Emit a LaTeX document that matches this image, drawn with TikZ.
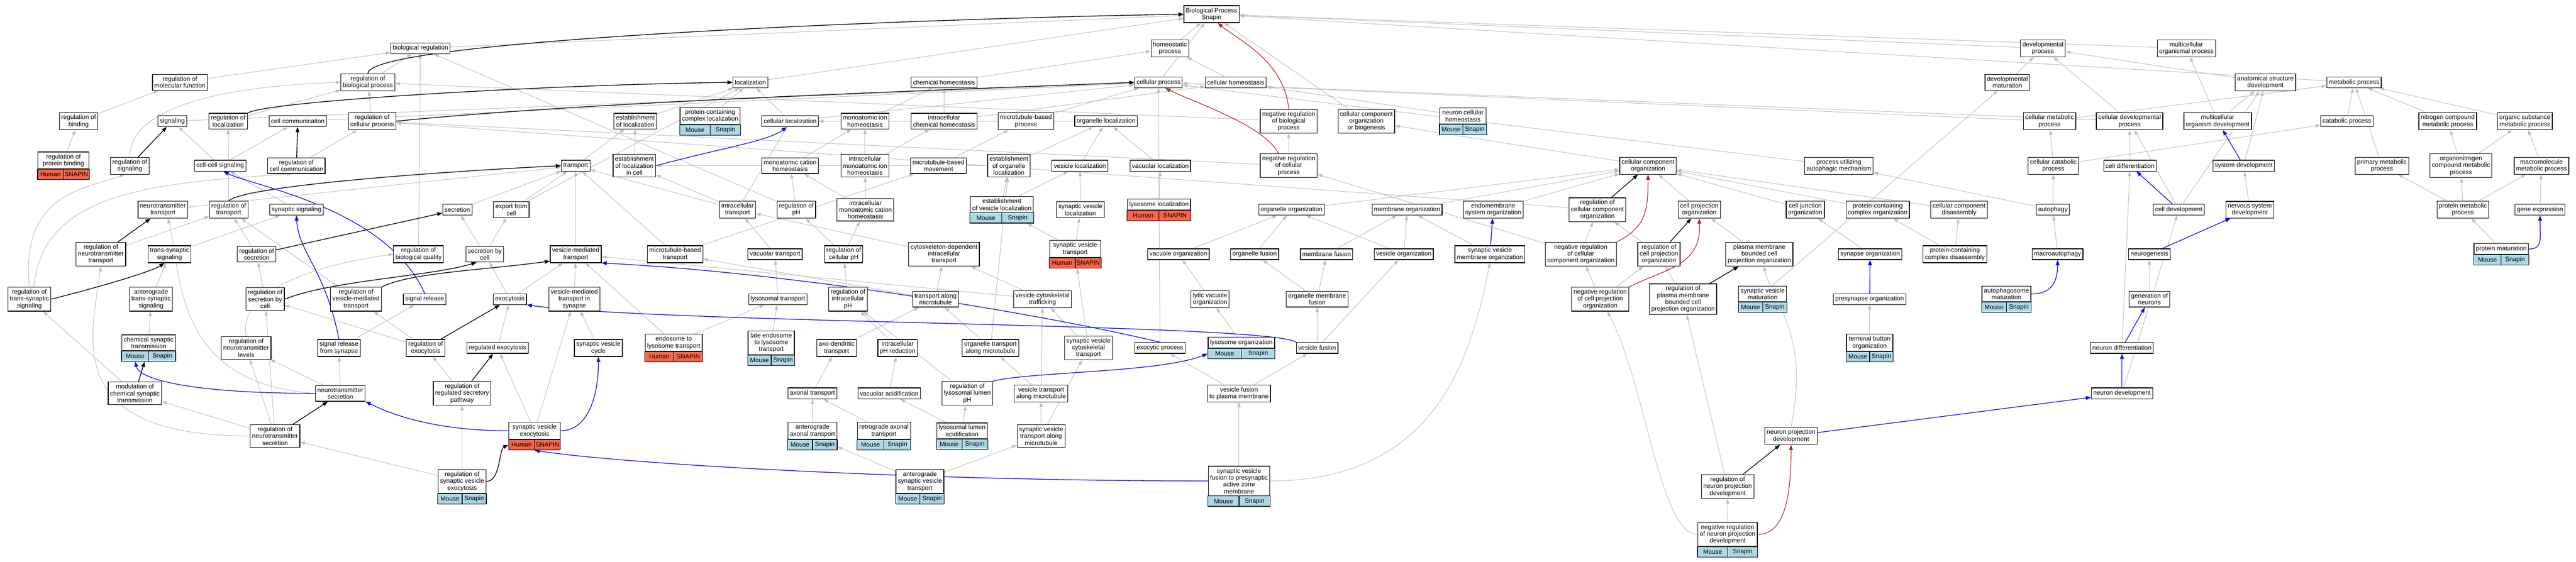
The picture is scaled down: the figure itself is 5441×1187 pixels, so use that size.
\documentclass[tikz,border=0pt]{standalone}
\usepackage{fontspec}
\setmainfont{Liberation Sans}
\usetikzlibrary{fit,arrows.meta,backgrounds}
\definecolor{mouseblue}{HTML}{ADD8E6}
\definecolor{humanred}{HTML}{FF6347}
\definecolor{isagray}{RGB}{190,190,190}
\definecolor{negred}{HTML}{B22222}
\newcommand\termfont{\fontsize{13.3}{14.5}\selectfont}
\newcommand\genecells[4]{%
	\node[genecell, fill=#2, fit={(#1.south west) ([yshift=-22pt]#1.south)}, label={[font=\termfont]center:#3}] (#1-sp) {};
	\node[genecell, fill=#2, fit={(#1.south) ([yshift=-22pt]#1.south east)}, label={[font=\termfont]center:#4}] (#1-ge) {};
	\node[fit=(#1)(#1-sp)(#1-ge), inner sep=0pt] (#1-all) {};}
\newcommand\mousebox[3]{\node[term, minimum width=98pt] (#1) at (#2) {#3};\genecells{#1}{mouseblue}{Mouse}{Snapin}}
\newcommand\humanbox[3]{\node[term, minimum width=108pt] (#1) at (#2) {#3};\genecells{#1}{humanred}{Human}{SNAPIN}}
\begin{document}
\begin{tikzpicture}[x=1pt,y=-1pt]\tikzset{term/.style = {draw=black, line width=1.3pt, fill=white, align=center, font=\termfont, inner xsep=4pt, inner ysep=4.5pt, minimum height=23pt},
	genecell/.style = {draw=black, line width=1.3pt, inner sep=0pt},
	isa/.style = {draw=isagray, line width=1.1pt, -{Triangle[length=10pt,width=7pt]}},
	regul/.style = {draw=black, line width=1.5pt, -{Triangle[length=11pt,width=8pt]}},
	partof/.style = {draw=blue, line width=1.4pt, -{Triangle[length=11pt,width=8pt]}},
	negreg/.style = {draw=negred, line width=1.3pt, -{Triangle[length=11pt,width=8pt]}}}
	\useasboundingbox (0,0) rectangle (5441,1187);

		\node[term] (bp) at (2559,30) {Biological Process\\Snapin};

		\node[term] (bioreg) at (888,102) {biological regulation};
		\node[term] (homeo) at (2471,102) {homeostatic\\process};
		\node[term] (devproc) at (4315,102) {developmental\\process};
		\node[term] (multorg) at (4618,102) {multicellular\\organismal process};

		\node[term] (regmf) at (380,174) {regulation of\\molecular function};
		\node[term] (regbp) at (777,174) {regulation of\\biological process};
		\node[term] (loc) at (1585,174) {localization};
		\node[term] (chemhom) at (1994,174) {chemical homeostasis};
		\node[term] (cellproc) at (2447,174) {cellular process};
		\node[term] (cellhom) at (2610,174) {cellular homeostasis};
		\node[term] (devmat) at (4240,174) {developmental\\maturation};
		\node[term] (anatdev) at (4785,174) {anatomical structure\\development};
		\node[term] (metab) at (4972,174) {metabolic process};

		\node[term] (regbind) at (166,256) {regulation of\\binding};
		\node[term] (signal) at (364,256) {signaling};
		\node[term] (regloc) at (482,256) {regulation of\\localization};
		\node[term] (cellcomm) at (629,256) {cell communication};
		\node[term] (regcp) at (786,256) {regulation of\\cellular process};
		\node[term] (estloc) at (1342,256) {establishment\\of localization};
		\mousebox{pcloc}{1500,245}{protein-containing\\complex localization}
		\node[term] (cellloc) at (1669,256) {cellular localization};
		\node[term] (ionhom) at (1827,256) {monoatomic ion\\homeostasis};
		\node[term] (icchemhom) at (1994,256) {intracellular\\chemical homeostasis};
		\node[term] (mtproc) at (2167,256) {microtubule-based\\process};
		\node[term] (orgloc) at (2336,256) {organelle localization};
		\node[term] (negregbp) at (2722,256) {negative regulation\\of biological\\process};
		\node[term] (ccob) at (2886,256) {cellular component\\organization\\or biogenesis};
		\mousebox{neurhom}{3090,245}{neuron cellular\\homeostasis}
		\node[term] (cellmet) at (4329,256) {cellular metabolic\\process};
		\node[term] (celldevp) at (4498,256) {cellular developmental\\process};
		\node[term] (multdev) at (4684,256) {multicellular\\organism development};
		\node[term] (catab) at (4957,256) {catabolic process};
		\node[term] (nitro) at (5170,256) {nitrogen compound\\metabolic process};
		\node[term] (orgsub) at (5333,256) {organic substance\\metabolic process};

		\humanbox{regpb}{134,339}{regulation of\\protein binding}
		\node[term] (regsig) at (274,350) {regulation of\\signaling};
		\node[term] (ccsig) at (465,350) {cell-cell signaling};
		\node[term] (regcc) at (626,350) {regulation of\\cell communication};
		\node[term] (transport) at (1216,350) {transport};
		\node[term] (estlocc) at (1340,350) {establishment\\of localization\\in cell};
		\node[term] (cationhom) at (1669,350) {monoatomic cation\\homeostasis};
		\node[term] (icionhom) at (1827,350) {intracellular\\monoatomic ion\\homeostasis};
		\node[term] (mtmove) at (1982,350) {microtubule-based\\movement};
		\node[term] (estorgloc) at (2131,350) {establishment\\of organelle\\localization};
		\node[term] (vesloc) at (2281,350) {vesicle localization};
		\node[term] (vacloc) at (2451,350) {vacuolar localization};
		\node[term] (negregcp) at (2722,350) {negative regulation\\of cellular\\process};
		\node[term] (cco) at (3481,350) {cellular component\\organization};
		\node[term] (autmech) at (3884,350) {process utilizing\\autophagic mechanism};
		\node[term] (cellcat) at (4337,350) {cellular catabolic\\process};
		\node[term] (celldiff) at (4499,350) {cell differentiation};
		\node[term] (sysdev) at (4739,350) {system development};
		\node[term] (primmet) at (5031,350) {primary metabolic\\process};
		\node[term] (orgnitro) at (5198,350) {organonitrogen\\compound metabolic\\process};
		\node[term] (macromet) at (5368,350) {macromolecule\\metabolic process};

		\node[term] (nttrans) at (344,443) {neurotransmitter\\transport};
		\node[term] (regtrans) at (483,443) {regulation of\\transport};
		\node[term] (synsig) at (626,443) {synaptic signaling};
		\node[term] (secretion) at (966,443) {secretion};
		\node[term] (export) at (1080,443) {export from\\cell};
		\node[term] (ictrans) at (1558,443) {intracellular\\transport};
		\node[term] (regph) at (1682,443) {regulation of\\pH};
		\node[term] (iccationhom) at (1828,443) {intracellular\\monoatomic cation\\homeostasis};
		\mousebox{estvesloc}{2116,432}{establishment\\of vesicle localization}
		\node[term] (svloc) at (2282,443) {synaptic vesicle\\localization};
		\humanbox{lysloc}{2448,432}{lysosome localization}
		\node[term] (orgorg) at (2728,443) {organelle organization};
		\node[term] (memorg) at (2972,443) {membrane organization};
		\node[term] (endoorg) at (3154,443) {endomembrane\\system organization};
		\node[term] (regcco) at (3374,443) {regulation of\\cellular component\\organization};
		\node[term] (cporg) at (3589,443) {cell projection\\organization};
		\node[term] (cjorg) at (3813,443) {cell junction\\organization};
		\node[term] (pcorg) at (3966,443) {protein-containing\\complex organization};
		\node[term] (ccdis) at (4138,443) {cellular component\\disassembly};
		\node[term] (autophagy) at (4336,443) {autophagy};
		\node[term] (celldev) at (4602,443) {cell development};
		\node[term] (nsdev) at (4752,443) {nervous system\\development};
		\node[term] (protmet) at (5202,443) {protein metabolic\\process};
		\node[term] (geneexp) at (5365,443) {gene expression};

		\node[term] (regntt) at (213,537) {regulation of\\neurotransmitter\\transport};
		\node[term] (tssig) at (358,537) {trans-synaptic\\signaling};
		\node[term] (regsec) at (542,537) {regulation of\\secretion};
		\node[term] (regbq) at (884,537) {regulation of\\biological quality};
		\node[term] (secbycell) at (1024,537) {secretion by\\cell};
		\node[term] (vmt) at (1216,537) {vesicle-mediated\\transport};
		\node[term] (mttrans) at (1426,537) {microtubule-based\\transport};
		\node[term] (vactrans) at (1637,537) {vacuolar transport};
		\node[term] (regcellph) at (1782,537) {regulation of\\cellular pH};
		\node[term] (cdit) at (1994,537) {cytoskeleton-dependent\\intracellular\\transport};
		\humanbox{svtrans}{2271,526}{synaptic vesicle\\transport}
		\node[term] (vacorg) at (2489,537) {vacuole organization};
		\node[term] (orgfus) at (2650,537) {organelle fusion};
		\node[term] (memfus) at (2802,537) {membrane fusion};
		\node[term] (vesorg) at (2965,537) {vesicle organization};
		\node[term] (svmemorg) at (3147,537) {synaptic vesicle\\membrane organization};
		\node[term] (negregcco) at (3339,537) {negative regulation\\of cellular\\component organization};
		\node[term] (regcporg) at (3504,537) {regulation of\\cell projection\\organization};
		\node[term] (pmbcporg) at (3716,537) {plasma membrane\\bounded cell\\projection organization};
		\node[term] (synorg) at (3950,537) {synapse organization};
		\node[term] (pcdis) at (4129,537) {protein-containing\\complex disassembly};
		\node[term] (macroaut) at (4346,537) {macroautophagy};
		\node[term] (neurogen) at (4540,537) {neurogenesis};
		\mousebox{protmat}{5283,526}{protein maturation}

		\node[term] (regtss) at (62,632) {regulation of\\trans-synaptic\\signaling};
		\node[term] (atss) at (319,632) {anterograde\\trans-synaptic\\signaling};
		\node[term] (regsbc) at (560,632) {regulation of\\secretion by\\cell};
		\node[term] (regvmt) at (752,632) {regulation of\\vesicle-mediated\\transport};
		\node[term] (sigrel) at (897,632) {signal release};
		\node[term] (exocyt) at (1077,632) {exocytosis};
		\node[term] (vmtsyn) at (1213,632) {vesicle-mediated\\transport in\\synapse};
		\node[term] (lystrans) at (1643,632) {lysosomal transport};
		\node[term] (regicph) at (1791,632) {regulation of\\intracellular\\pH};
		\node[term] (tamt) at (1976,632) {transport along\\microtubule};
		\node[term] (vcyt) at (2202,632) {vesicle cytoskeletal\\trafficking};
		\node[term] (lvorg) at (2556,632) {lytic vacuole\\organization};
		\node[term] (orgmemfus) at (2782,632) {organelle membrane\\fusion};
		\node[term] (negregcporg) at (3380,632) {negative regulation\\of cell projection\\organization};
		\node[term] (regpmbcporg) at (3555,632) {regulation of\\plasma membrane\\bounded cell\\projection organization};
		\mousebox{svmat}{3723,621}{synaptic vesicle\\maturation}
		\node[term] (presynorg) at (3949,632) {presynapse organization};
		\mousebox{autmat}{4238,621}{autophagosome\\maturation}
		\node[term] (genneur) at (4540,632) {generation of\\neurons};

		\mousebox{cst}{314,724}{chemical synaptic\\transmission}
		\node[term] (regntl) at (520,735) {regulation of\\neurotransmitter\\levels};
		\node[term] (srsyn) at (716,735) {signal release\\from synapse};
		\node[term] (regexo) at (899,735) {regulation of\\exocytosis};
		\node[term] (regexocyt) at (1051,735) {regulated exocytosis};
		\node[term] (svcycle) at (1264,735) {synaptic vesicle\\cycle};
		\humanbox{endolys}{1423,724}{endosome to\\lysosome transport}
		\mousebox{lateendo}{1629,724}{late endosome\\to lysosome\\transport}
		\node[term] (axodend) at (1767,735) {axo-dendritic\\transport};
		\node[term] (icphred) at (1896,735) {intracellular\\pH reduction};
		\node[term] (otamt) at (2092,735) {organelle transport\\along microtubule};
		\node[term] (svcyt) at (2299,735) {synaptic vesicle\\cytoskeletal\\transport};
		\node[term] (exoproc) at (2450,735) {exocytic process};
		\mousebox{lysorg}{2622,724}{lysosome organization}
		\node[term] (vesfus) at (2782,735) {vesicle fusion};
		\mousebox{tborg}{3949,724}{terminal button\\organization}
		\node[term] (neurdiff) at (4482,735) {neuron differentiation};

		\node[term] (modcst) at (285,831) {modulation of\\chemical synaptic\\transmission};
		\node[term] (ntsec) at (719,831) {neurotransmitter\\secretion};
		\node[term] (regrsp) at (976,831) {regulation of\\regulated secretory\\pathway};
		\node[term] (axtrans) at (1716,831) {axonal transport};
		\node[term] (vacacid) at (1878,831) {vacuolar acidification};
		\node[term] (regllph) at (2043,831) {regulation of\\lysosomal lumen\\pH};
		\node[term] (vtamt) at (2199,831) {vesicle transport\\along microtubule};
		\node[term] (vfpm) at (2617,831) {vesicle fusion\\to plasma membrane};
		\node[term] (neurdev) at (4482,831) {neuron development};

		\node[term] (regnts) at (581,921) {regulation of\\neurotransmitter\\secretion};
		\humanbox{svexo}{1129,910}{synaptic vesicle\\exocytosis}
		\mousebox{antax}{1716,910}{anterograde\\axonal transport}
		\mousebox{retax}{1867,910}{retrograde axonal\\transport}
		\mousebox{llacid}{2032,910}{lysosomal lumen\\acidification}
		\node[term] (svtamt) at (2199,921) {synaptic vesicle\\transport along\\microtubule};
		\node[term] (npd) at (3783,921) {neuron projection\\development};

		\mousebox{regsvexo}{976,1017}{regulation of\\synaptic vesicle\\exocytosis}
		\mousebox{antsvt}{1943,1017}{anterograde\\synaptic vesicle\\transport}
		\mousebox{svfus}{2617,1016}{synaptic vesicle\\fusion to presynaptic\\active zone\\membrane}
		\node[term] (regnpd) at (3649,1028) {regulation of\\neuron projection\\development};

		\mousebox{negregnpd}{3649,1129}{negative regulation\\of neuron projection\\development}

	\begin{pgfonlayer}{background}
		\fill[white] (0,0) rectangle (5441,1187);
		\foreach \a/\b in {bioreg/bp, homeo/bp, devproc/bp, multorg/bp, loc/bp, cellproc/bp, metab/bp, ccob/bp,
			regmf/bioreg, regbp/bioreg, regbq/bioreg, regph/bioreg,
			chemhom/homeo, cellhom/homeo, devmat/devproc, anatdev/devproc, celldevp/devproc,
			regbind/regmf, regloc/regbp, regcp/regbp, negregbp/regbp,
			signal/cellproc, cellcomm/cellproc, cellloc/cellproc, mtproc/cellproc, cellmet/cellproc, celldevp/cellproc, autmech/cellproc, exoproc/cellproc,
			estloc/loc, pcloc/loc, cellloc/loc, export/loc,
			ionhom/chemhom, icchemhom/chemhom, icchemhom/cellhom, neurhom/cellhom,
			orgloc/cellloc, cellmet/metab, catab/metab, nitro/metab, orgsub/metab, primmet/metab,
			multdev/multorg, multdev/anatdev, sysdev/anatdev, celldev/anatdev,
			regpb/regbind, ccsig/signal, ccsig/cellcomm, regcc/regcp, negregcp/regcp, regcco/regcp,
			transport/estloc, estlocc/estloc, cationhom/ionhom, icionhom/ionhom, icionhom/icchemhom,
			mtmove/mtproc, estorgloc/orgloc, vesloc/orgloc, vacloc/orgloc, negregcp/negregbp, cco/ccob,
			cellcat/cellmet, cellcat/catab, celldiff/celldevp, celldev/celldevp, orgnitro/nitro, orgnitro/orgsub, macromet/orgsub,
			nttrans/transport, secretion/transport, export/transport, ictrans/transport, vmt/transport, mttrans/transport,
			regtrans/regloc, synsig/ccsig, estorgloc/estlocc, ictrans/estlocc, ictrans/cellloc,
			regph/cationhom, iccationhom/cationhom, iccationhom/icionhom, estvesloc/estorgloc, estvesloc/vesloc, svloc/vesloc, lysloc/vacloc,
			orgorg/cco, memorg/cco, endoorg/cco, cporg/cco, cjorg/cco, pcorg/cco, ccdis/cco,
			autophagy/autmech, autophagy/cellcat, nsdev/sysdev, protmet/primmet, protmet/orgnitro, protmet/macromet, geneexp/macromet, neurdiff/celldiff,
			regntt/regtrans, regsec/regtrans, regvmt/regtrans, tssig/synsig, secbycell/secretion, secbycell/export, mttrans/mtmove,
			vactrans/ictrans, cdit/ictrans, regcellph/regph, regcellph/iccationhom, svtrans/estvesloc-all, svtrans/svloc,
			vacorg/orgorg, orgfus/orgorg, vesorg/orgorg, memfus/memorg, vesorg/memorg, svmemorg/memorg,
			negregcco/regcco, negregcco/negregcp, regcporg/regcco, pmbcporg/cporg, synorg/cjorg, pcdis/pcorg, pcdis/ccdis, macroaut/autophagy, neurdev/celldev, protmat/protmet,
			atss/tssig, regsbc/regsec, exocyt/secbycell, exocyt/vmt, vmtsyn/vmt, lystrans/vactrans, regicph/regcellph,
			tamt/mttrans, tamt/cdit, vcyt/cdit, vcyt/vmt, lvorg/vacorg, orgmemfus/orgfus, orgmemfus/memfus, negregcporg/regcporg, negregcporg/negregcco, regpmbcporg/regcporg,
			svmat/devmat, genneur/neurogen,
			cst/atss, srsyn/sigrel, regexo/regsbc, regexo/regvmt, regexocyt/exocyt, svcycle/vmtsyn, endolys/lystrans, endolys/vmt, lateendo/lystrans,
			axodend/tamt, icphred/regicph, otamt/tamt, otamt/estorgloc, svcyt/vcyt, svcyt/svtrans-all, lysorg/lvorg, vesfus/orgmemfus, vesfus/vesorg, tborg/presynorg,
			modcst/regtss, ntsec/regntl, ntsec/srsyn, regrsp/regexo, axtrans/axodend, vacacid/icphred, regllph/regicph, vtamt/otamt, vtamt/vcyt, vfpm/exoproc, vfpm/vesfus,
			regnts/regntl, regnts/regsbc, regnts/modcst, svexo/regexocyt, svexo/vmtsyn, antax/axtrans, retax/axtrans, llacid/vacacid, llacid/regllph, svtamt/vtamt, svtamt/svcyt,
			regsvexo/regnts, regsvexo/regrsp, antsvt/svtamt, antsvt/antax-all, svfus/vfpm, regnpd/regpmbcporg,
			negregnpd/regnpd}
			\draw[isa] (\a) -- (\b);
		\draw[isa] (regsig.north) .. controls +(0,-90) and +(-300,10) .. (regbp.west);
		\draw[isa] (regtss.north) .. controls +(-20,-200) and +(-80,30) .. (regsig.-120);
		\draw[isa] (regtss.70) .. controls +(20,-200) and +(-300,20) .. (regcc.-120);
		\draw[isa] (ntsec.west) .. controls +(-300,-20) and +(30,120) .. (nttrans.-60);
		\draw[isa] (regnts.west) .. controls +(-400,0) and +(-20,150) .. (regntt.south);
		\draw[isa] (regntl.north) .. controls +(-20,-100) and +(-150,20) .. (regbq.west);
		\draw[isa] (negregnpd.west) .. controls +(-80,0) and +(80,150) .. (negregcporg.-60);
		\draw[isa] (svfus.east) .. controls +(350,0) and +(-40,200) .. (svmemorg.south);
		\draw[isa] (npd.north) .. controls +(40,-200) and +(20,80) .. (pmbcporg.-70);

		\draw[regul] (regbp.north) .. controls +(0,-70) and +(-600,10) .. (bp.west);
		\draw[regul] (regloc.north east) .. controls +(40,-25) and +(-400,5) .. (loc.west);
		\draw[regul] (regcp.east) .. controls +(400,-40) and +(-500,20) .. (cellproc.west);
		\draw[regul] (regtrans.north) .. controls +(30,-30) and +(-300,15) .. (transport.west);
		\draw[regul] (regsbc.east) .. controls +(100,-40) and +(-100,30) .. (secbycell.-135);
		\draw[regul] (regvmt.north east) .. controls +(60,-30) and +(-150,20) .. (vmt.-165);
		\draw[regul] (regtss.east) .. controls +(80,-20) and +(-30,20) .. (tssig.-120);
		\draw[regul] (regsvexo.east) .. controls +(30,0) and +(-20,10) .. (svexo-sp.west);
		\draw[regul] (regsig) -- (signal);
		\draw[regul] (regcc) -- (cellcomm);
		\draw[regul] (regntt) -- (nttrans);
		\draw[regul] (regsec) -- (secretion);
		\draw[regul] (regexo) -- (exocyt);
		\draw[regul] (regrsp) -- (regexocyt);
		\draw[regul] (modcst) -- (cst-all);
		\draw[regul] (regnts) -- (ntsec);
		\draw[regul] (regcco) -- (cco);
		\draw[regul] (regcporg) -- (cporg);
		\draw[regul] (regpmbcporg) -- (pmbcporg);
		\draw[regul] (regnpd) -- (npd);

		\draw[negreg] (negregbp.north) .. controls +(-10,-100) and +(50,40) .. (bp.-55);
		\draw[negreg] (negregcp.130) .. controls +(-30,-60) and +(60,30) .. (cellproc.-40);
		\draw[negreg] (negregcco.north east) .. controls +(60,-30) and +(0,80) .. (cco.south);
		\draw[negreg] (negregcporg.north east) .. controls +(80,-40) and +(5,100) .. (cporg.south);
		\draw[negreg] (negregnpd.east) .. controls +(60,0) and +(0,100) .. (npd.south);

		\draw[partof] (sigrel.north) .. controls +(-80,-180) and +(60,30) .. (ccsig.-60);
		\draw[partof] (srsyn.north) .. controls +(-30,-150) and +(5,80) .. (synsig.south);
		\draw[partof] (ntsec.west) .. controls +(-250,0) and +(10,40) .. (cst-sp.south);
		\draw[partof] (svexo.west) .. controls +(-150,0) and +(60,30) .. (ntsec.south east);
		\draw[partof] (svexo.east) .. controls +(60,0) and +(0,80) .. (svcycle.south);
		\draw[partof] (svfus.west) .. controls +(-600,0) and +(200,30) .. (svexo-all.south);
		\draw[partof] (vesfus.north west) .. controls +(-60,-40) and +(300,40) .. (exocyt.south east);
		\draw[partof] (exoproc.north) .. controls +(-250,-60) and +(400,20) .. (vmt.south east);
		\draw[partof] (regllph.north east) .. controls +(80,-20) and +(-100,40) .. (lysorg-sp.west);
		\draw[partof] (estlocc.east) .. controls +(150,-40) and +(-40,30) .. (cellloc.-120);
		\draw[partof] (autmat.east) .. controls +(40,0) and +(0,50) .. (macroaut.south);
		\draw[partof] (protmat.east) .. controls +(30,0) and +(0,50) .. (geneexp.south);
		\draw[partof] (svmemorg) -- (endoorg);
		\draw[partof] (presynorg) -- (synorg);
		\draw[partof] (neurdev) -- (neurdiff);
		\draw[partof] (npd) -- (neurdev);
		\draw[partof] (neurdiff) -- (genneur);
		\draw[partof] (celldev) -- (celldiff);
		\draw[partof] (sysdev) -- (multdev);
		\draw[partof] (neurogen) -- (nsdev);
	\end{pgfonlayer}
	\end{tikzpicture}
\end{document}
